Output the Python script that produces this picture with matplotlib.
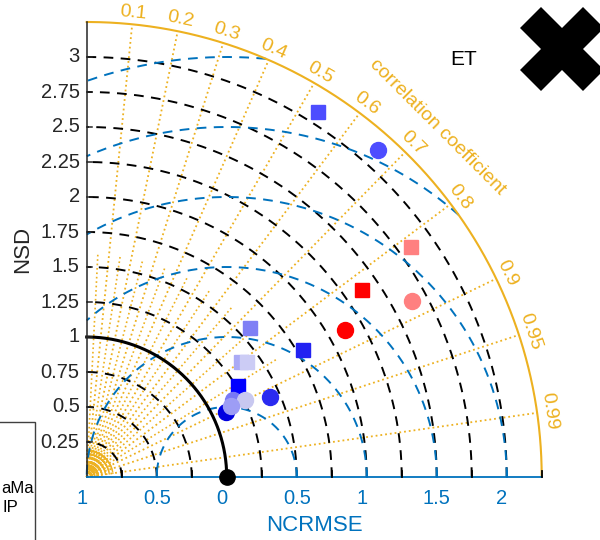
import numpy as np
import matplotlib
matplotlib.use("Agg")
import matplotlib.pyplot as plt
from matplotlib.patches import Rectangle

plt.rcParams['font.family'] = ['Liberation Sans', 'DejaVu Sans']

# ---- Taylor statistics (normalised standard deviation, correlation) ----
# square markers
sq_nsd = [3.09, 2.84, 2.38, 1.79, 1.58, 1.37, 1.41, 1.26]
sq_cor = [0.535, 0.816, 0.827, 0.863, 0.739, 0.802, 0.811, 0.857]
sq_col = ['#4d4dff', '#ff8080', '#ff0000', '#2222f2', '#7f7ff5',
          '#aaaaf5', '#ccccf5', '#0000ff']
# circle markers
ci_nsd = [3.13, 2.64, 2.12, 1.43, 1.10, 1.18, 1.26, 1.15]
ci_cor = [0.665, 0.879, 0.869, 0.916, 0.906, 0.885, 0.899, 0.898]
ci_col = ['#4d4dff', '#ff8080', '#ff0000', '#2a2af0', '#0000e0',
          '#7878f5', '#c8c8f0', '#9d9df5']

# ---- grid definitions ----
rmax = 3.25
nsd_ticks = [0.25, 0.5, 0.75, 1, 1.25, 1.5, 1.75, 2, 2.25, 2.5, 2.75, 3]
nsd_labels = ['0.25', '0.5', '0.75', '1', '1.25', '1.5', '1.75', '2',
              '2.25', '2.5', '2.75', '3']
ncrmse_ticks = [-1, -0.5, 0, 0.5, 1, 1.5, 2]
ncrmse_labels = ['1', '0.5', '0', '0.5', '1', '1.5', '2']
rmse_arcs = [0.5, 1, 1.5, 2, 2.5, 3]
cor_ticks = [0.1, 0.2, 0.3, 0.4, 0.5, 0.6, 0.7, 0.8, 0.9, 0.95, 0.99]
cor_labels = ['0.1', '0.2', '0.3', '0.4', '0.5', '0.6', '0.7', '0.8',
              '0.9', '0.95', '0.99']
cor_minor = [0.05, 0.15, 0.25, 0.35, 0.45, 0.55, 0.65, 0.75, 0.85]
cor_fine = list(np.round(np.arange(0.01, 1.0, 0.01), 2))

gold = '#EDB120'
blue = '#0072BD'
dark = '#262626'

scale = 140.0  # pixels per unit
fig = plt.figure(figsize=(6, 5.4), dpi=100)
ax = fig.add_axes([0, 0, 1, 1])
ax.set_xlim(-86.7 / scale, (600 - 86.7) / scale)
ax.set_ylim(-(540 - 477) / scale, 477 / scale)
ax.axis('off')

th = np.linspace(0, np.pi / 2, 500)

# correlation rays
for c in cor_fine:
    a = np.arccos(c)
    ax.plot([0, 0.2 * np.cos(a)], [0, 0.2 * np.sin(a)], color=gold,
            ls=':', lw=1.0, zorder=1)
for c in cor_minor:
    a = np.arccos(c)
    ax.plot([0, 1.6 * np.cos(a)], [0, 1.6 * np.sin(a)], color=gold,
            ls=':', lw=1.2, zorder=1)
for c in cor_ticks:
    a = np.arccos(c)
    ax.plot([0, rmax * np.cos(a)], [0, rmax * np.sin(a)], color=gold,
            ls=':', lw=1.3, zorder=1)

# standard deviation arcs
for s in nsd_ticks:
    if s == 1:
        continue
    ax.plot(s * np.cos(th), s * np.sin(th), color='k', lw=1.4,
            dashes=(5, 3.8), zorder=2)

# centred RMS difference arcs around the reference point (1, 0)
for R in rmse_arcs:
    p0 = np.arccos(np.clip((rmax ** 2 - 1 - R ** 2) / (2 * R), -1, 1))
    p1 = np.arccos(np.clip(-1.0 / R, -1, 1))
    phi = np.linspace(p0, p1, 500)
    ax.plot(1 + R * np.cos(phi), R * np.sin(phi), color=blue, lw=1.4,
            dashes=(5, 3.8), zorder=2)

# reference arc and outer frame
ax.plot(np.cos(th), np.sin(th), color='k', lw=2.2, zorder=3)
ax.plot(rmax * np.cos(th), rmax * np.sin(th), color=gold, lw=1.5, zorder=3)
ax.plot([0, 0], [0, rmax], color=dark, lw=1.1, zorder=3)
ax.plot([0, rmax], [0, 0], color=blue, lw=1.3, zorder=3)

# axis ticks
for s, lbl in zip(nsd_ticks, nsd_labels):
    ax.plot([0, 0.035], [s, s], color=dark, lw=1.1, zorder=3)
    ax.text(-0.05, s, lbl, ha='right', va='center', fontsize=14.5,
            color=dark)
for r in np.arange(0.25, rmax + 0.01, 0.25):
    tick_col = blue if any(abs(r - 1 - v) < 1e-6 for v in (-0.5, 0.5, 1, 1.5, 2)) else 'k'
    ax.plot([r, r], [0, 0.04], color=tick_col, lw=1.3, zorder=3)
for v, lbl in zip(ncrmse_ticks, ncrmse_labels):
    shift = -0.036 if len(lbl) == 1 else 0.0
    ax.text(1 + v + shift, -0.15, lbl, ha='center', va='center',
            fontsize=14.5, color=blue)

ax.text(rmax / 2, -0.345, 'NCRMSE', ha='center', va='center', fontsize=16,
        color=blue)
ax.text(-0.455, rmax / 2, 'NSD', ha='center', va='center', fontsize=16,
        color=dark, rotation=90)

# correlation labels around the outer arc
for c, lbl in zip(cor_ticks, cor_labels):
    a = np.arccos(c)
    ax.text(3.335 * np.cos(a), 3.335 * np.sin(a), lbl, ha='center',
            va='center', rotation=np.degrees(a) - 90, rotation_mode='anchor',
            fontsize=14, color=gold)
a = np.radians(45.0)
ax.text(3.54 * np.cos(a), 3.54 * np.sin(a), 'correlation coefficient',
        ha='center', va='center', rotation=-45, rotation_mode='anchor',
        fontsize=14, color=gold)

# model markers
for s, c, col in zip(sq_nsd, sq_cor, sq_col):
    ax.plot(s * c, s * np.sqrt(1 - c ** 2), marker='s', ms=9.5, color=col,
            mec=col, ls='none', zorder=5)
for s, c, col in zip(ci_nsd, ci_cor, ci_col):
    ax.plot(s * c, s * np.sqrt(1 - c ** 2), marker='o', ms=11.5, color=col,
            mec=col, ls='none', zorder=5)

# reference point
ax.plot(1, 0, marker='o', ms=11, color='k', ls='none', zorder=6,
        clip_on=False)

ax.text(2.69, 2.98, 'ET', ha='center', va='center', fontsize=15, color='k')

# close glyph in the corner
ax.plot(0.937, 0.909, marker='X', ms=60, color='k', mew=0,
        transform=ax.transAxes, clip_on=False)

# legend box at the lower left edge
box_right = (35 - 86.7) / scale
ax.add_patch(Rectangle((-0.8, -0.7), box_right + 0.8,
                       (477 - 421.7) / scale + 0.7, facecolor='white',
                       edgecolor='#404040', lw=1.0, zorder=7))
ax.text(box_right - 0.01, -0.079, 'aMa', ha='right', va='center',
        fontsize=12, color='k', zorder=8)
ax.text(-0.49, -0.221, 'IP', ha='right', va='center', fontsize=12,
        color='k', zorder=8)

fig.savefig('out.png', dpi=100)
